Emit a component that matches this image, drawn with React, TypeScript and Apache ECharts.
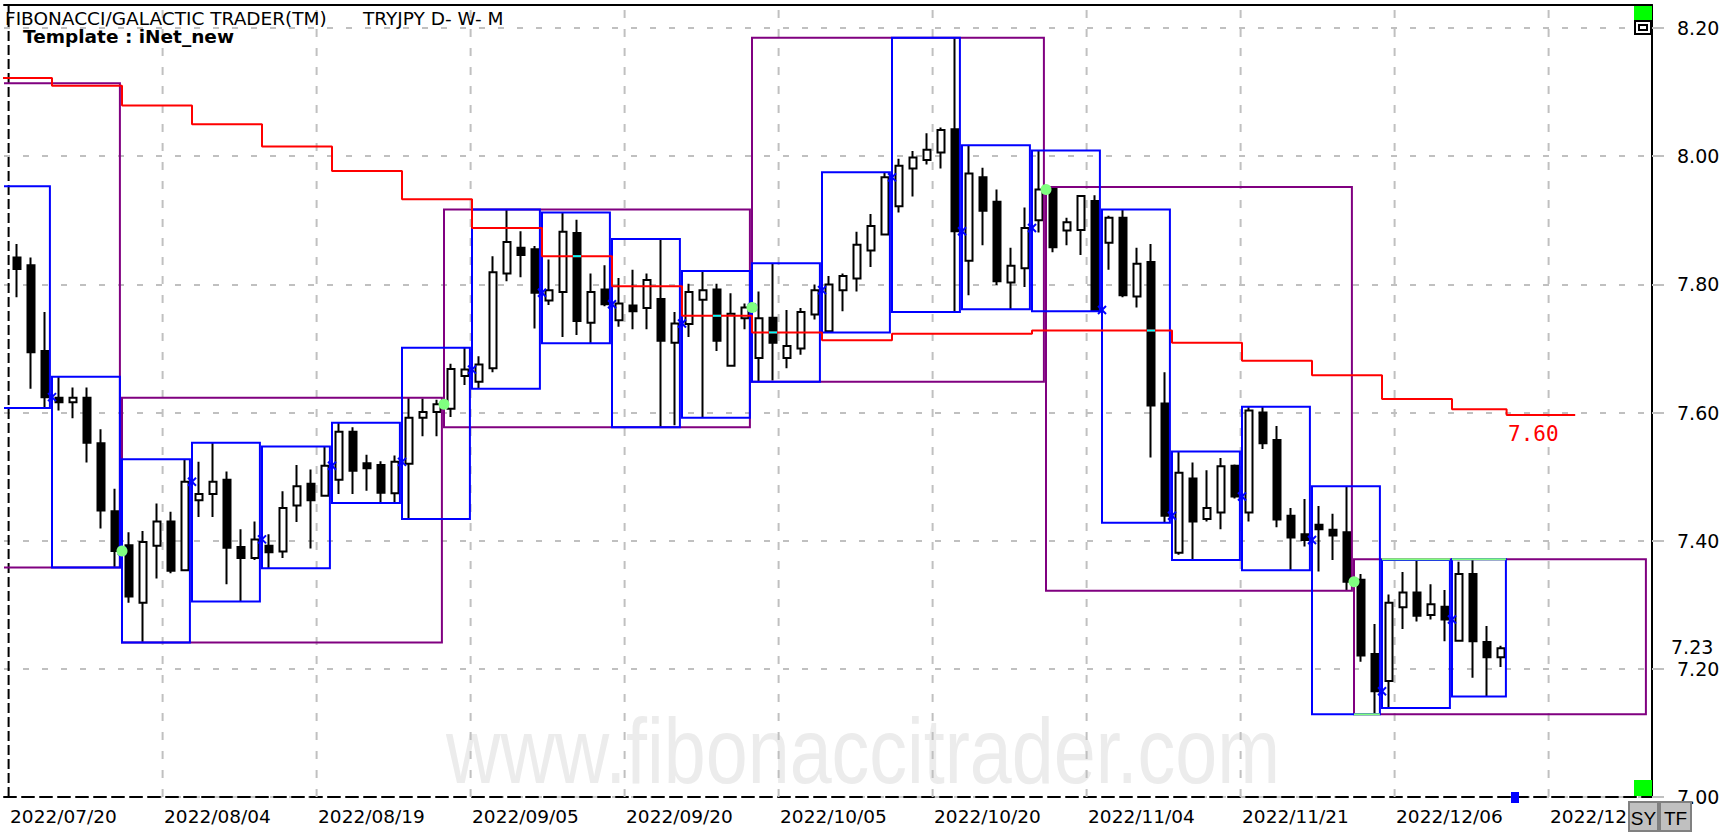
import React, { useEffect, useRef } from 'react';
import * as echarts from 'echarts';

// ---------------- data ----------------
const openP = [
  7.842, 7.830, 7.696, 7.623, 7.616, 7.623, 7.552, 7.446, 7.393, 7.303,
  7.392, 7.430, 7.354, 7.463, 7.473, 7.495, 7.390, 7.373, 7.392, 7.383,
  7.455, 7.489, 7.470, 7.495, 7.570, 7.521, 7.518, 7.474, 7.520, 7.592,
  7.601, 7.606, 7.657, 7.648, 7.669, 7.817, 7.857, 7.855, 7.775, 7.788,
  7.880, 7.740, 7.792, 7.744, 7.767, 7.763, 7.777, 7.709, 7.738, 7.776,
  7.792, 7.673, 7.747, 7.685, 7.748, 7.685, 7.700, 7.753, 7.727, 7.791,
  7.809, 7.853, 7.878, 7.922, 7.981, 7.994, 8.006, 8.042, 7.837, 7.967,
  7.929, 7.803, 7.825, 7.900, 7.951, 7.884, 7.885, 7.930, 7.865, 7.904,
  7.781, 7.835, 7.614, 7.381, 7.497, 7.434, 7.444, 7.517, 7.444, 7.600,
  7.557, 7.439, 7.410, 7.425, 7.417, 7.413, 7.339, 7.223, 7.181, 7.296,
  7.319, 7.284, 7.297, 7.244, 7.348, 7.242, 7.218,
];
const closeP = [
  7.824, 7.694, 7.624, 7.616, 7.623, 7.553, 7.447, 7.384, 7.313, 7.398,
  7.430, 7.353, 7.492, 7.473, 7.492, 7.389, 7.373, 7.402, 7.382, 7.451,
  7.485, 7.463, 7.517, 7.570, 7.509, 7.513, 7.475, 7.523, 7.592, 7.601,
  7.613, 7.668, 7.667, 7.675, 7.819, 7.866, 7.846, 7.787, 7.791, 7.882,
  7.743, 7.788, 7.769, 7.770, 7.758, 7.807, 7.712, 7.739, 7.788, 7.791,
  7.712, 7.754, 7.764, 7.747, 7.709, 7.704, 7.757, 7.791, 7.800, 7.813,
  7.862, 7.891, 7.967, 7.985, 7.998, 8.010, 8.041, 7.883, 7.973, 7.915,
  7.805, 7.829, 7.888, 7.948, 7.858, 7.897, 7.938, 7.760, 7.904, 7.783,
  7.832, 7.611, 7.439, 7.506, 7.430, 7.451, 7.516, 7.469, 7.603, 7.552,
  7.433, 7.405, 7.401, 7.418, 7.408, 7.336, 7.221, 7.165, 7.303, 7.319,
  7.283, 7.301, 7.277, 7.348, 7.243, 7.218, 7.232,
];
const lowP = [
  7.780, 7.637, 7.607, 7.603, 7.591, 7.522, 7.419, 7.358, 7.303, 7.241,
  7.341, 7.349, 7.353, 7.437, 7.437, 7.332, 7.305, 7.370, 7.357, 7.373,
  7.429, 7.388, 7.470, 7.473, 7.473, 7.478, 7.459, 7.459, 7.434, 7.563,
  7.563, 7.593, 7.643, 7.637, 7.663, 7.805, 7.811, 7.731, 7.768, 7.718,
  7.721, 7.708, 7.766, 7.734, 7.730, 7.730, 7.577, 7.580, 7.718, 7.592,
  7.696, 7.673, 7.730, 7.648, 7.650, 7.669, 7.690, 7.745, 7.725, 7.758,
  7.789, 7.827, 7.878, 7.912, 7.937, 7.987, 7.981, 7.757, 7.783, 7.861,
  7.799, 7.761, 7.796, 7.881, 7.850, 7.861, 7.846, 7.758, 7.823, 7.780,
  7.764, 7.530, 7.428, 7.378, 7.370, 7.430, 7.418, 7.466, 7.430, 7.543,
  7.421, 7.354, 7.391, 7.352, 7.370, 7.322, 7.211, 7.129, 7.139, 7.262,
  7.274, 7.277, 7.243, 7.244, 7.186, 7.157, 7.203,
];
const highP = [
  7.863, 7.842, 7.757, 7.656, 7.639, 7.639, 7.574, 7.481, 7.413, 7.415,
  7.458, 7.445, 7.527, 7.523, 7.553, 7.508, 7.418, 7.430, 7.410, 7.477,
  7.518, 7.511, 7.547, 7.584, 7.577, 7.534, 7.524, 7.533, 7.623, 7.622,
  7.620, 7.676, 7.701, 7.688, 7.844, 7.917, 7.883, 7.860, 7.839, 7.912,
  7.901, 7.817, 7.830, 7.810, 7.823, 7.817, 7.871, 7.757, 7.801, 7.821,
  7.801, 7.786, 7.770, 7.789, 7.833, 7.760, 7.763, 7.800, 7.813, 7.817,
  7.882, 7.910, 7.975, 7.996, 8.008, 8.036, 8.045, 8.185, 8.017, 7.982,
  7.948, 7.857, 7.920, 8.009, 7.952, 7.904, 7.939, 7.939, 7.907, 7.917,
  7.857, 7.863, 7.663, 7.539, 7.522, 7.510, 7.529, 7.519, 7.609, 7.609,
  7.579, 7.451, 7.465, 7.454, 7.442, 7.485, 7.348, 7.270, 7.316, 7.351,
  7.370, 7.332, 7.323, 7.367, 7.371, 7.267, 7.236,
];

// x-axis date labels (trading-day index of each label)
const dateLabels = [
  '2022/07/20', '2022/08/04', '2022/08/19', '2022/09/05', '2022/09/20', '2022/10/05',
  '2022/10/20', '2022/11/04', '2022/11/21', '2022/12/06', '2022/12/21',
];
const dateLabelIdx = [0, 11, 22, 33, 44, 55, 66, 77, 88, 99, 110];

// weekly periods (index of the Monday) and monthly periods
const weekStart = [-2, 3, 8, 13, 18, 23, 28, 33, 38, 43, 48, 53, 58, 63, 68, 73, 78, 83, 88, 93, 98, 103];
const monthStart = [-14, 8, 31, 53, 74, 96];
const monthEnd = [7, 30, 52, 73, 95, 116];
const firstWeekHigh = 7.953; // part of the week that lies before the first visible bar
const firstMonthHigh = 8.114; // part of July before the first visible bar

// red weekly step line
const redWeekVal = [
  8.122, 8.110, 8.079, 8.050, 8.015, 7.977, 7.933, 7.888, 7.844, 7.797, 7.751,
  7.725, 7.713, 7.723, 7.723, 7.728, 7.728, 7.709, 7.681, 7.658, 7.621, 7.605,
];
const redTailVal = 7.596;
const redTailEnd = 111.3;

// axis extents
const Y_MIN = 7.0;
const Y_MAX = 8.236;
const Y_STEP = 0.2;
const X_MIN = -13 / 14;
const X_MAX = 1635 / 14;

// ---------------- derived ----------------
const nBars = openP.length;
const lastIdx = nBars - 1;
const weekEnd = weekStart.map((s) => Math.min(s + 4, lastIdx));
const hiLo = (s: number, e: number) => {
  let hi = -Infinity;
  let lo = Infinity;
  for (let i = Math.max(s, 0); i <= Math.min(e, lastIdx); i++) {
    hi = Math.max(hi, highP[i]);
    lo = Math.min(lo, lowP[i]);
  }
  return [hi, lo];
};
const weekHigh = weekStart.map((s, k) => hiLo(s, weekEnd[k])[0]);
const weekLow = weekStart.map((s, k) => hiLo(s, weekEnd[k])[1]);
weekHigh[0] = Math.max(weekHigh[0], firstWeekHigh);
const monthHigh = monthStart.map((s, m) => hiLo(s, monthEnd[m])[0]);
const monthLow = monthStart.map((s, m) => hiLo(s, monthEnd[m])[1]);
monthHigh[0] = Math.max(monthHigh[0], firstMonthHigh);

const BOX_L = 0.5;
const BOX_R = 0.35;

const redPts: number[][] = weekStart.map((s, k) => [s - BOX_L, redWeekVal[k]]);
redPts.push([lastIdx + 0.4, redTailVal], [redTailEnd, redTailVal]);

const weekOf = (i: number) => weekStart.findIndex((s, k) => i >= s && i <= weekEnd[k]);
const cyanItems: number[][] = [];
for (let i = 0; i < nBars; i++) {
  if (closeP[i] < openP[i]) {
    const r = redWeekVal[weekOf(i)];
    if (r < openP[i] - 0.002 && r > closeP[i] + 0.002) cyanItems.push([i, r]);
  }
}

const candleData = openP.map((o, i) => [i, o, closeP[i], lowP[i], highP[i]]);

const FONT = '"DejaVu Sans", "Liberation Sans", sans-serif';

const option: any = {
  animation: false,
  backgroundColor: '#ffffff',
  grid: { left: 4, right: 72, top: 5, bottom: 35, outerBoundsMode: 'none' },
  xAxis: [
    {
      type: 'value', min: X_MIN, max: X_MAX, position: 'bottom',
      axisLine: { show: true, onZero: false, lineStyle: { color: '#000', width: 2, type: [12, 6] } },
      axisTick: { show: false }, axisLabel: { show: false }, splitLine: { show: false },
    },
    {
      type: 'value', min: X_MIN, max: X_MAX, position: 'top',
      axisLine: { show: true, onZero: false, lineStyle: { color: '#000', width: 2 } },
      axisTick: { show: false }, axisLabel: { show: false }, splitLine: { show: false },
    },
  ],
  yAxis: {
    type: 'value', position: 'right', min: Y_MIN, max: Y_MAX, interval: Y_STEP,
    axisLine: { show: true, onZero: false, lineStyle: { color: '#000', width: 2 } },
    axisTick: { show: true, length: 12, lineStyle: { color: '#c0c0c0', width: 2 } },
    axisLabel: {
      margin: 25, color: '#000', fontFamily: FONT, fontSize: 19, lineHeight: 18,
      padding: [0, 0, 4, 0],
      formatter: (v: number) => v.toFixed(2), showMaxLabel: false,
    },
    splitLine: { show: true, lineStyle: { color: '#c0c0c0', width: 2, type: [6, 13] } },
  },
  graphic: [
    {
      type: 'text', z: 0, x: 863, y: 751, scaleX: 0.82,
      style: {
        text: 'www.fibonaccitrader.com', font: '92px "Liberation Sans", Arial, sans-serif', fill: '#ececec',
        align: 'center', verticalAlign: 'middle', textAlign: 'center', textVerticalAlign: 'middle',
      },
    },
    {
      type: 'text', z: 50, x: 5, y: 18,
      style: { text: 'FIBONACCI/GALACTIC TRADER(TM)', font: '18.5px ' + FONT, lineHeight: 16, fill: '#000', verticalAlign: 'middle', textVerticalAlign: 'middle' },
    },
    {
      type: 'text', z: 50, x: 363, y: 18,
      style: { text: 'TRYJPY D- W- M', font: '18.5px ' + FONT, lineHeight: 16, fill: '#000', verticalAlign: 'middle', textVerticalAlign: 'middle' },
    },
    {
      type: 'text', z: 50, x: 23, y: 36,
      style: { text: 'Template : iNet_new', font: 'bold 18.5px ' + FONT, lineHeight: 16, fill: '#000', verticalAlign: 'middle', textVerticalAlign: 'middle' },
    },
    { type: 'rect', z: 100, shape: { x: 1634, y: 6, width: 18, height: 14 }, style: { fill: '#00ff00' } },
    { type: 'rect', z: 100, shape: { x: 1635, y: 21, width: 16, height: 13 }, style: { fill: '#fff', stroke: '#000', lineWidth: 2 } },
    { type: 'rect', z: 101, shape: { x: 1639, y: 25, width: 8, height: 5 }, style: { fill: '#fff', stroke: '#000', lineWidth: 2 } },
    { type: 'rect', z: 100, shape: { x: 1634, y: 780, width: 18, height: 16 }, style: { fill: '#00ff00' } },
    { type: 'rect', z: 100, shape: { x: 1629, y: 802, width: 29, height: 29 }, style: { fill: '#c0c0c0', stroke: '#808080', lineWidth: 2 } },
    { type: 'rect', z: 100, shape: { x: 1660, y: 802, width: 31, height: 29 }, style: { fill: '#c0c0c0', stroke: '#808080', lineWidth: 2 } },
    {
      type: 'text', z: 101, x: 1643.5, y: 818,
      style: { text: 'SY', font: '19px "Liberation Sans", Arial, sans-serif', lineHeight: 17, fill: '#000', align: 'center', verticalAlign: 'middle', textAlign: 'center', textVerticalAlign: 'middle' },
    },
    {
      type: 'text', z: 101, x: 1675.5, y: 818,
      style: { text: 'TF', font: '19px "Liberation Sans", Arial, sans-serif', lineHeight: 17, fill: '#000', align: 'center', verticalAlign: 'middle', textAlign: 'center', textVerticalAlign: 'middle' },
    },
  ],
  series: [
    {
      // vertical date grid + date labels
      type: 'custom', z: 1, silent: true, clip: false,
      data: dateLabelIdx.map((v) => [v, Y_MIN]),
      renderItem: (params: any, api: any) => {
        const i = params.dataIndex;
        const x = api.value(0) - 0.6;
        const pb = api.coord([x, Y_MIN]);
        const pt = api.coord([x, Y_MAX]);
        const plotRight = api.coord([X_MAX, Y_MIN])[0];
        const tx = pb[0] + 1.5;
        return {
          type: 'group',
          children: [
            {
              type: 'line', shape: { x1: pb[0], y1: pb[1], x2: pt[0], y2: pt[1] },
              style: { stroke: i === 0 ? '#000' : '#c0c0c0', lineWidth: 2, lineDash: i === 0 ? [10, 4] : [8, 11] },
            },
            {
              type: 'text',
              style: {
                text: dateLabels[i], x: tx, y: pb[1] + 19, fill: '#000', font: '18.5px ' + FONT,
                width: plotRight - tx - 23, overflow: 'truncate', ellipsis: '',
                align: 'left', verticalAlign: 'middle', textAlign: 'left', textVerticalAlign: 'middle',
              },
            },
          ],
        };
      },
    },
    {
      type: 'candlestick', z: 2, silent: true,
      data: candleData,
      encode: { x: 0, y: [1, 2, 3, 4] },
      barWidth: 7.5,
      itemStyle: { color: '#ffffff', color0: '#000000', borderColor: '#000000', borderColor0: '#000000', borderWidth: 2 },
    },
    {
      // monthly boxes
      type: 'custom', z: 3, silent: true, clip: true,
      data: monthStart.map((s) => [s, Y_MIN]),
      renderItem: (params: any, api: any) => {
        const m = params.dataIndex;
        const p0 = api.coord([monthStart[m] - BOX_L, monthHigh[m]]);
        const p1 = api.coord([monthEnd[m] + BOX_R, monthLow[m]]);
        return {
          type: 'rect',
          shape: { x: p0[0], y: p0[1], width: p1[0] - p0[0], height: p1[1] - p0[1] },
          style: { fill: 'none', stroke: '#800080', lineWidth: 2 },
        };
      },
    },
    {
      // weekly boxes
      type: 'custom', z: 3, silent: true, clip: true,
      data: weekStart.map((s) => [s, Y_MIN]),
      renderItem: (params: any, api: any) => {
        const k = params.dataIndex;
        const x0 = weekStart[k] - BOX_L;
        const x1 = weekEnd[k] + BOX_R;
        const p0 = api.coord([x0, weekHigh[k]]);
        const p1 = api.coord([x1, weekLow[k]]);
        const children: any[] = [
          {
            type: 'rect',
            shape: { x: p0[0], y: p0[1], width: p1[0] - p0[0], height: p1[1] - p0[1] },
            style: { fill: 'none', stroke: '#0000ff', lineWidth: 2 },
          },
        ];
        const lm = monthStart.length - 1;
        const ox0 = Math.max(x0, monthStart[lm] - BOX_L);
        const ox1 = Math.min(x1, monthEnd[lm] + BOX_R);
        if (ox1 > ox0) {
          [[weekHigh[k], monthHigh[lm]], [weekLow[k], monthLow[lm]]].forEach(([wv, mv]) => {
            if (Math.abs(wv - mv) < 0.002) {
              const a = api.coord([ox0, mv]);
              const b = api.coord([ox1, mv]);
              children.push({ type: 'line', shape: { x1: a[0], y1: a[1], x2: b[0], y2: b[1] }, style: { stroke: '#80ff80', lineWidth: 2 } });
            }
          });
        }
        return { type: 'group', children };
      },
    },
    {
      type: 'line', z: 4, silent: true, step: 'end', showSymbol: false, symbol: 'none',
      data: redPts,
      lineStyle: { color: '#ff0000', width: 2 },
    },
    {
      // red line crossing black candle bodies shows cyan
      type: 'custom', z: 5, silent: true, clip: true,
      data: cyanItems,
      renderItem: (params: any, api: any) => {
        const p = api.coord([api.value(0), api.value(1)]);
        return { type: 'line', shape: { x1: p[0] - 4, y1: p[1], x2: p[0] + 4, y2: p[1] }, style: { stroke: '#00ffff', lineWidth: 2 } };
      },
    },
    {
      // weekly start markers at previous week's close
      type: 'custom', z: 5, silent: true, clip: true,
      data: weekStart.slice(1).map((s) => [s - BOX_L, closeP[s - 1]]),
      renderItem: (params: any, api: any) => {
        const p = api.coord([api.value(0), api.value(1)]);
        const d = 4;
        return {
          type: 'group',
          children: [
            { type: 'line', shape: { x1: p[0] - d, y1: p[1] - d, x2: p[0] + d, y2: p[1] + d }, style: { stroke: '#0000ff', lineWidth: 2 } },
            { type: 'line', shape: { x1: p[0] - d, y1: p[1] + d, x2: p[0] + d, y2: p[1] - d }, style: { stroke: '#0000ff', lineWidth: 2 } },
          ],
        };
      },
    },
    {
      // monthly start dots at previous month's close
      type: 'custom', z: 6, silent: true, clip: true,
      data: monthStart.slice(1).map((s) => [s - BOX_L, closeP[s - 1]]),
      renderItem: (params: any, api: any) => {
        const p = api.coord([api.value(0), api.value(1)]);
        return { type: 'circle', shape: { cx: p[0], cy: p[1], r: 5.5 }, style: { fill: '#80ff80' } };
      },
    },
    {
      // value labels
      type: 'custom', z: 6, silent: true, clip: false,
      data: [[lastIdx + 0.5, redTailVal], [X_MAX, closeP[lastIdx]], [lastIdx + 1, Y_MIN]],
      renderItem: (params: any, api: any) => {
        const p = api.coord([api.value(0), api.value(1)]);
        if (params.dataIndex === 0) {
          return {
            type: 'text',
            style: {
              text: redTailVal.toFixed(2), x: p[0], y: p[1] + 19, fill: '#ff0000', font: '21px "DejaVu Sans Mono", monospace',
              align: 'left', verticalAlign: 'middle', textAlign: 'left', textVerticalAlign: 'middle',
            },
          };
        }
        if (params.dataIndex === 1) {
          return {
            type: 'text',
            style: {
              text: closeP[lastIdx].toFixed(2), x: p[0] + 19, y: p[1] - 1, fill: '#000', font: '19px ' + FONT,
              lineHeight: 16, backgroundColor: '#ffffff', padding: [1, 2, 1, 0],
              align: 'left', verticalAlign: 'middle', textAlign: 'left', textVerticalAlign: 'middle',
            },
          };
        }
        return { type: 'rect', shape: { x: p[0] - 4, y: p[1] - 5, width: 8, height: 11 }, style: { fill: '#0000ff' } };
      },
    },
  ],
};

export default function App() {
  const ref = useRef<HTMLDivElement>(null);
  useEffect(() => {
    const chart = echarts.init(ref.current as HTMLDivElement, undefined, { renderer: 'svg' });
    chart.setOption(option);
    return () => chart.dispose();
  }, []);
  return (
    <div
      ref={ref}
      style={{ position: 'fixed', left: 0, top: 0, width: 1724, height: 832, background: '#ffffff' }}
    />
  );
}
